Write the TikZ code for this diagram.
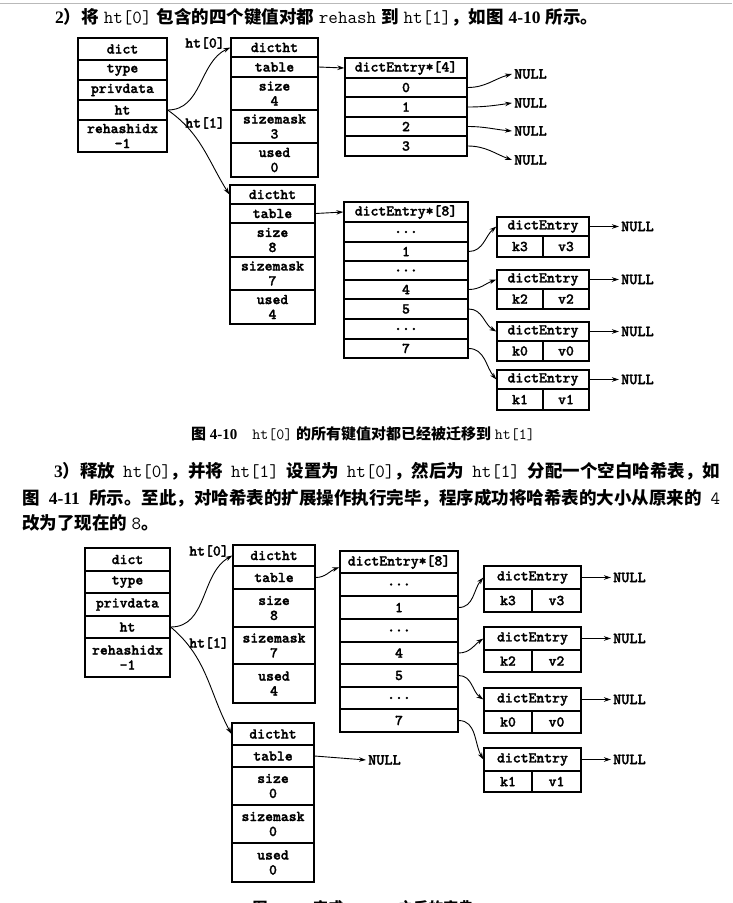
\documentclass[tikz,border=0pt]{standalone}
\usepackage{fontspec}
\setmainfont{Liberation Serif}
\newfontfamily\cjk{Noto Sans CJK SC}
\newfontfamily\diagtt{lmmonolt10-bold.otf}[FakeBold=1.6]
\usetikzlibrary{arrows.meta}
\XeTeXlinebreaklocale "zh"
\XeTeXlinebreakskip=0pt plus 3pt minus 0.5pt
\newcommand{\zh}[1]{{\cjk\bfseries #1}}
\newcommand{\mo}[1]{{\ttfamily\mdseries\fontsize{18.5}{20}\selectfont #1}}
\newcommand{\moc}[1]{{\ttfamily\mdseries\fontsize{15.5}{17}\selectfont #1}}
\newcommand{\cell}[6]{\node[cellbox,minimum width={(#4-#2)*1pt},minimum height={(#5-#3)*1pt}] (#1) at ({(#2+#4)/2},{(#3+#5)/2}) {#6};}
\newcommand{\entrybox}[9]{%
  \cell{#1h}{#2}{#5}{#3}{#6}{dictEntry}
  \cell{#1k}{#2}{#6}{#4}{#7}{#8}
  \cell{#1v}{#4}{#6}{#3}{#7}{#9}}
\tikzset{
  cellbox/.style={draw,line width=1.3pt,inner sep=0pt,align=center,
    font=\diagtt\bfseries\fontsize{15}{15}\selectfont},
  nulltext/.style={anchor=west,inner sep=2pt,font=\diagtt\bfseries\fontsize{15.5}{15}\selectfont},
  lbl/.style={inner sep=0pt,font=\diagtt\bfseries\fontsize{15}{15}\selectfont},
  arr/.style={draw,line width=0.9pt,-{Stealth[length=7pt,width=4.5pt]}},
  txt/.style={anchor=west,inner sep=0pt,font=\fontsize{17.5}{20}\selectfont\bfseries}
}
\begin{document}
\begin{tikzpicture}[x=1pt,y=-1pt]
\useasboundingbox (0,0) rectangle (732,903);
\fill[white] (0,0) rectangle (732,903);
\draw[gray!55,line width=1pt] (0,3) -- (732,3);

% ---------- title line
\node[txt] (title) at (55,17) {\hbox to 543pt{2\zh{）将} \mo{ht[0]} \zh{包含的四个键值对都} \mo{rehash} \zh{到} \mo{ht[1]}\zh{，如图} 4-10 \zh{所示。}}};

% ---------- diagram 1
\cell{d1a}{78}{38}{167}{60}{dict}
\cell{d1b}{78}{60}{167}{80}{type}
\cell{d1c}{78}{80}{167}{100}{privdata}
\cell{d1ht}{78}{100}{167}{120}{ht}
\cell{d1r}{78}{120}{167}{152}{rehashidx\\-1}

\cell{t0h}{231}{38}{318}{57}{dictht}
\cell{t0t}{231}{57}{318}{77}{table}
\cell{t0s}{231}{77}{318}{110}{size\\4}
\cell{t0m}{231}{110}{318}{143}{sizemask\\3}
\cell{t0u}{231}{143}{318}{177}{used\\0}

\cell{e4h}{345}{58}{467}{78}{dictEntry*[4]}
\cell{e40}{345}{78}{467}{97}{0}
\cell{e41}{345}{97}{467}{117}{1}
\cell{e42}{345}{117}{467}{136}{2}
\cell{e43}{345}{136}{467}{156}{3}

\node[nulltext] (n40) at (512,74) {NULL};
\node[nulltext] (n41) at (512,103) {NULL};
\node[nulltext] (n42) at (512,131) {NULL};
\node[nulltext] (n43) at (512,160) {NULL};

\cell{t1h}{230}{185}{315}{204}{dictht}
\cell{t1t}{230}{204}{315}{223}{table}
\cell{t1s}{230}{223}{315}{257}{size\\8}
\cell{t1m}{230}{257}{315}{290}{sizemask\\7}
\cell{t1u}{230}{290}{315}{324}{used\\4}

\cell{e8h}{344}{202}{468}{222}{dictEntry*[8]}
\cell{e8a}{344}{222}{468}{242}{...}
\cell{e81}{344}{242}{468}{261}{1}
\cell{e8b}{344}{261}{468}{280}{...}
\cell{e84}{344}{280}{468}{299}{4}
\cell{e85}{344}{299}{468}{319}{5}
\cell{e8c}{344}{319}{468}{339}{...}
\cell{e87}{344}{339}{468}{358}{7}

\entrybox{ka}{497}{589}{543}{217}{236}{257}{k3}{v3}
\entrybox{kb}{497}{589}{543}{270}{289}{309}{k2}{v2}
\entrybox{kc}{497}{589}{543}{322}{341}{361}{k0}{v0}
\entrybox{kd}{497}{589}{543}{370}{389}{410}{k1}{v1}

\node[nulltext] (na) at (619,226.5) {NULL};
\node[nulltext] (nb) at (619,279.5) {NULL};
\node[nulltext] (nc) at (619,331.5) {NULL};
\node[nulltext] (nd) at (619,379.5) {NULL};

\node[lbl] (l10) at (205,43) {ht[0]};
\node[lbl] (l11) at (205,123) {ht[1]};

\draw[arr] (d1ht.east) to[out=0,in=205] (t0h.west);
\draw[arr] (d1ht.east) to[out=-35,in=122] (t1h.west);
\draw[arr] (t0t.east) -- (e4h.west);
\draw[arr] (e40.east) to[out=0,in=195] (n40.west);
\draw[arr] (e41.east) to[out=0,in=188] (n41.west);
\draw[arr] (e42.east) to[out=0,in=175] (n42.west);
\draw[arr] (e43.east) to[out=0,in=160] (n43.west);
\draw[arr] (t1t.east) -- (e8h.west);
\draw[arr] (e81.east) to[out=0,in=220] (kah.west);
\draw[arr] (e84.east) to[out=0,in=200] (kbh.west);
\draw[arr] (e85.east) to[out=0,in=150] (kch.west);
\draw[arr] (e87.east) to[out=0,in=130] (kdh.west);
\draw[arr] (kah.east) -- (na.west);
\draw[arr] (kbh.east) -- (nb.west);
\draw[arr] (kch.east) -- (nc.west);
\draw[arr] (kdh.east) -- (nd.west);

% ---------- caption 1
\node[inner sep=0pt,font=\fontsize{15}{17}\selectfont\bfseries] (cap1) at (363,434) {\zh{图} 4-10\quad\moc{ht[0]} \zh{的所有键值对都已经被迁移到} \moc{ht[1]}};

% ---------- paragraph
\node[txt] (p1) at (54,471) {\hbox to 666pt{3\zh{）释放} \mo{ht[0]}\zh{，并将} \mo{ht[1]} \zh{设置为} \mo{ht[0]}\zh{，然后为} \mo{ht[1]} \zh{分配一个空白哈希表，如}}};
\node[txt] (p2) at (22,498) {\hbox to 698pt{\zh{图} 4-11 \zh{所示。至此，对哈希表的扩展操作执行完毕，程序成功将哈希表的大小从原来的} \mo{4}}};
\node[txt] (p3) at (22,523) {\zh{改为了现在的} \mo{8}\zh{。}};

% ---------- diagram 2
\cell{d2a}{85}{548}{170}{571}{dict}
\cell{d2b}{85}{571}{170}{593}{type}
\cell{d2c}{85}{593}{170}{616}{privdata}
\cell{d2ht}{85}{616}{170}{638}{ht}
\cell{d2r}{85}{638}{170}{677}{rehashidx\\-1}

\cell{u0h}{233}{545}{315}{566}{dictht}
\cell{u0t}{233}{566}{315}{589}{table}
\cell{u0s}{233}{589}{315}{627}{size\\8}
\cell{u0m}{233}{627}{315}{664}{sizemask\\7}
\cell{u0u}{233}{664}{315}{703}{used\\4}

\cell{f8h}{340}{551}{458}{573}{dictEntry*[8]}
\cell{f8a}{340}{573}{458}{596}{...}
\cell{f81}{340}{596}{458}{619}{1}
\cell{f8b}{340}{619}{458}{642}{...}
\cell{f84}{340}{642}{458}{664}{4}
\cell{f85}{340}{664}{458}{687}{5}
\cell{f8c}{340}{687}{458}{709}{...}
\cell{f87}{340}{709}{458}{732}{7}

\entrybox{ga}{484}{581}{532}{566}{589}{612}{k3}{v3}
\entrybox{gb}{484}{581}{532}{627}{650}{672}{k2}{v2}
\entrybox{gc}{484}{581}{532}{688}{711}{733}{k0}{v0}
\entrybox{gd}{484}{581}{532}{748}{771}{792}{k1}{v1}

\node[nulltext] (ma) at (611,577.5) {NULL};
\node[nulltext] (mb) at (611,638.5) {NULL};
\node[nulltext] (mc) at (611,699.5) {NULL};
\node[nulltext] (md) at (611,759.5) {NULL};

\cell{u1h}{232}{723}{314}{745}{dictht}
\cell{u1t}{232}{745}{314}{767}{table}
\cell{u1s}{232}{767}{314}{805}{size\\0}
\cell{u1m}{232}{805}{314}{843}{sizemask\\0}
\cell{u1u}{232}{843}{314}{882}{used\\0}

\node[nulltext] (m1) at (366,760) {NULL};

\node[lbl] (l20) at (209,551) {ht[0]};
\node[lbl] (l21) at (209,643) {ht[1]};

\draw[arr] (d2ht.east) to[out=0,in=210] (u0h.west);
\draw[arr] (d2ht.east) to[out=-40,in=118] (u1h.west);
\draw[arr] (u0t.east) to[out=0,in=200] (f8h.185);
\draw[arr] (f81.east) to[out=0,in=230] (gah.west);
\draw[arr] (f84.east) to[out=0,in=215] (gbh.west);
\draw[arr] (f85.east) to[out=0,in=145] (gch.west);
\draw[arr] (f87.east) to[out=0,in=120] (gdh.west);
\draw[arr] (gah.east) -- (ma.west);
\draw[arr] (gbh.east) -- (mb.west);
\draw[arr] (gch.east) -- (mc.west);
\draw[arr] (gdh.east) -- (md.west);
\draw[arr] (u1t.east) -- (m1.west);

% ---------- caption 2 (cut by the page edge, as in the reference)
\node[inner sep=0pt,font=\fontsize{15}{17}\selectfont\bfseries] (cap2) at (363,908) {\zh{图} 4-11\quad\zh{完成} \moc{rehash} \zh{之后的字典}};
\end{tikzpicture}
\end{document}
